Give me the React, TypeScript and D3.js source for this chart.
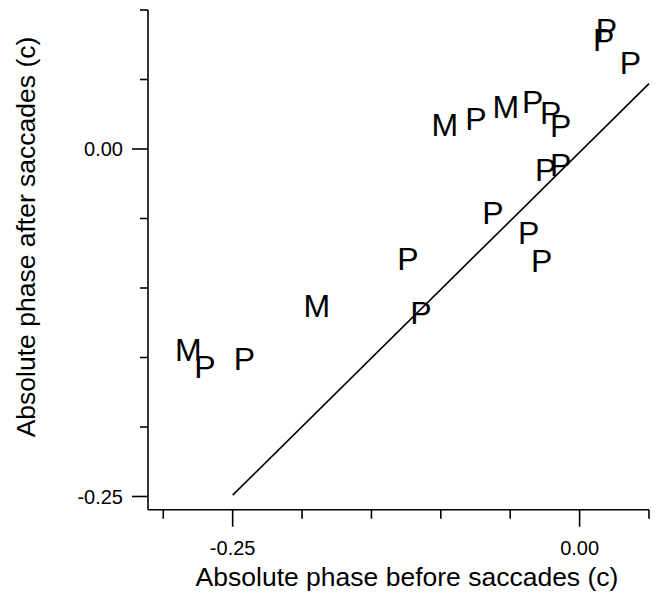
import React from "react";
import * as d3 from "d3";

const labels = ["M","P","P","M","P","P","P","P","P","M","P","M","P","P","P","P","P","P","P","P"];
const xBefore = [-0.282,-0.270,-0.2416,-0.1894,-0.1237,-0.1143,-0.0625,-0.0367,-0.0273,-0.0971,-0.0748,-0.0532,-0.0338,-0.0209,-0.0137,-0.0245,-0.0137,0.0194,0.0173,0.0367];
const yAfter = [-0.1444,-0.1564,-0.1506,-0.1125,-0.0787,-0.1176,-0.0456,-0.0600,-0.0801,0.0174,0.0221,0.0304,0.0343,0.0264,0.0171,-0.0146,-0.0110,0.0862,0.0790,0.0624];

const fitX = [-0.25, 0.05];
const fitY = [-0.249, 0.047];

const xTicks = [-0.30,-0.25,-0.20,-0.15,-0.10,-0.05,0.00,0.05];
const xMajor = [-0.25, 0.00];
const yTicks = [0.10,0.05,0.00,-0.05,-0.10,-0.15,-0.20,-0.25];
const yMajor = [0.00, -0.25];

const W = 656, H = 593;
const font = "'Liberation Sans', Arial, Helvetica, sans-serif";

export default function App() {
  const x = d3.scaleLinear().domain([-0.311, 0.05]).range([148, 649]);
  const y = d3.scaleLinear().domain([-0.2595, 0.10]).range([509.7, 10]);
  const fmt = (v: number) => d3.format(".2f")(v).replace("\u2212", "-");
  const line = d3.line<number>().x((d, i) => x(fitX[i])).y((d, i) => y(fitY[i]));
  const x0 = x.range()[0];
  const yb = y.range()[0];
  return (
    <svg width={W} height={H} style={{ position: "absolute", left: 0, top: 0, background: "#fff" }} fontFamily={font}>
      <rect width={W} height={H} fill="#fff" />
      <line x1={x0} x2={x0} y1={y(0.10)} y2={yb} stroke="#000" strokeWidth={1.6} />
      <line x1={x0} x2={x(0.05)} y1={yb} y2={yb} stroke="#000" strokeWidth={1.6} />
      {xTicks.map((t) => {
        const major = xMajor.includes(t);
        return <line key={"xt" + t} x1={x(t)} x2={x(t)} y1={yb} y2={yb + (major ? 17 : 9)} stroke="#000" strokeWidth={1.6} />;
      })}
      {xMajor.map((t) => (
        <text key={"xl" + t} x={x(t)} y={555} textAnchor="middle" fontSize={20}>{fmt(t)}</text>
      ))}
      {yTicks.map((t) => {
        const major = yMajor.includes(t);
        return <line key={"yt" + t} x1={x0 - (major ? 16 : 8)} x2={x0} y1={y(t)} y2={y(t)} stroke="#000" strokeWidth={1.6} />;
      })}
      {yMajor.map((t) => (
        <text key={"yl" + t} x={123} y={y(t)} dy="0.36em" textAnchor="end" fontSize={20}>{fmt(t)}</text>
      ))}
      <text x={407} y={586} textAnchor="middle" fontSize={26.5}>Absolute phase before saccades (c)</text>
      <text transform={`translate(35,237) rotate(-90)`} textAnchor="middle" fontSize={26.5}>Absolute phase after saccades (c)</text>
      <path d={line(fitX) || ""} fill="none" stroke="#000" strokeWidth={1.6} />
      {labels.map((l, i) => (
        <text key={"p" + i} x={x(xBefore[i])} y={y(yAfter[i])} dy="0.36em" textAnchor="middle" fontSize={32}>{l}</text>
      ))}
    </svg>
  );
}
